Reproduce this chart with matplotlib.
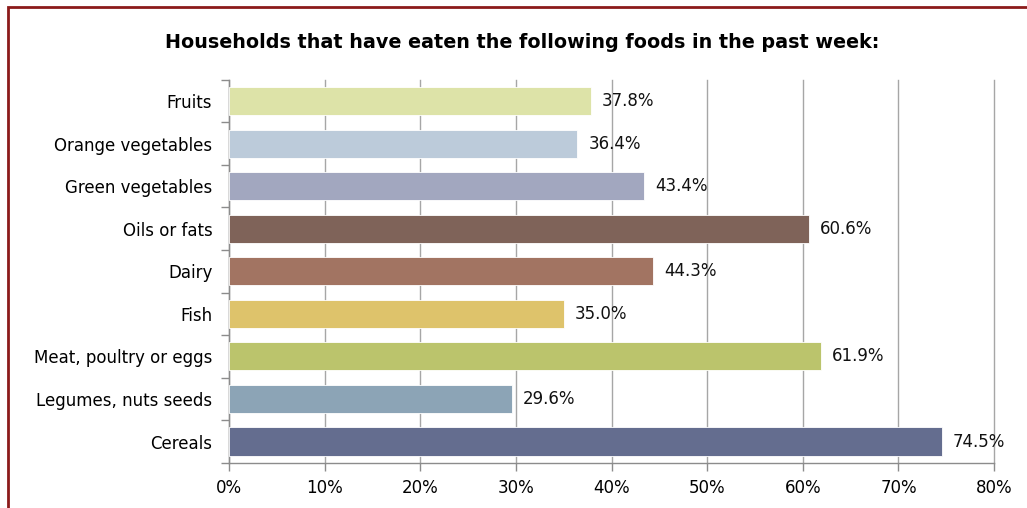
import matplotlib.pyplot as plt
from matplotlib.patches import Rectangle
from matplotlib.ticker import MultipleLocator, FuncFormatter

# data (top to bottom)
categories = ["Fruits", "Orange vegetables", "Green vegetables", "Oils or fats",
              "Dairy", "Fish", "Meat, poultry or eggs", "Legumes, nuts seeds", "Cereals"]
values = [37.8, 36.4, 43.4, 60.6, 44.3, 35.0, 61.9, 29.6, 74.5]
colors = ["#DDE3A8", "#BCCBDA", "#A2A7BF", "#7F6359", "#A27462",
          "#DEC36B", "#BBC46C", "#8CA4B6", "#646D8F"]

plt.rcParams['font.family'] = ['DejaVu Sans']

fig = plt.figure(figsize=(10.27, 5.08), dpi=100)
ax = fig.add_axes([0.223, 0.089, 0.745, 0.754])

# dark red frame round the chart
fig.patches.append(Rectangle((0.008, -0.05), 1.1, 1.036, transform=fig.transFigure,
                             fill=False, edgecolor="#8B1A1A", linewidth=2))

y = list(range(len(categories)))
ax.barh(y, values, height=0.66, color=colors, edgecolor="white", linewidth=0.6, zorder=3)

for yi, v in zip(y, values):
    ax.annotate(f"{v:.1f}%", (v, yi), xytext=(8, 0), textcoords="offset points",
                va="center", ha="left", fontsize=12, color="#111111", zorder=4)

ax.set_xlim(0, 80)
ax.set_ylim(len(categories) - 0.5, -0.5)
ax.xaxis.set_major_locator(MultipleLocator(10))
ax.xaxis.set_major_formatter(FuncFormatter(lambda x, p: f"{x:.0f}%"))
ax.grid(axis="x", color="#A6A6A6", linewidth=1, zorder=0)
for line in ax.get_xgridlines():
    line.set_clip_on(False)

# category labels centred, tick marks on the boundaries
ax.set_yticks(y)
ax.set_yticklabels(categories, fontsize=12)
ax.set_yticks([i - 0.5 for i in range(len(categories) + 1)], minor=True)
ax.tick_params(axis="y", which="major", length=0, pad=12)
ax.tick_params(axis="y", which="minor", length=6, color="#8C8C8C", width=1)
ax.tick_params(axis="x", length=6, color="#8C8C8C", width=1, labelsize=12, pad=6)

for s in ["top", "right"]:
    ax.spines[s].set_visible(False)
for s in ["left", "bottom"]:
    ax.spines[s].set_color("#8C8C8C")
    ax.spines[s].set_linewidth(1)

fig.text(0.508, 0.917, "Households that have eaten the following foods in the past week:",
         ha="center", va="center", fontsize=13.8, fontweight="bold")

fig.savefig("out.png", dpi=100)
